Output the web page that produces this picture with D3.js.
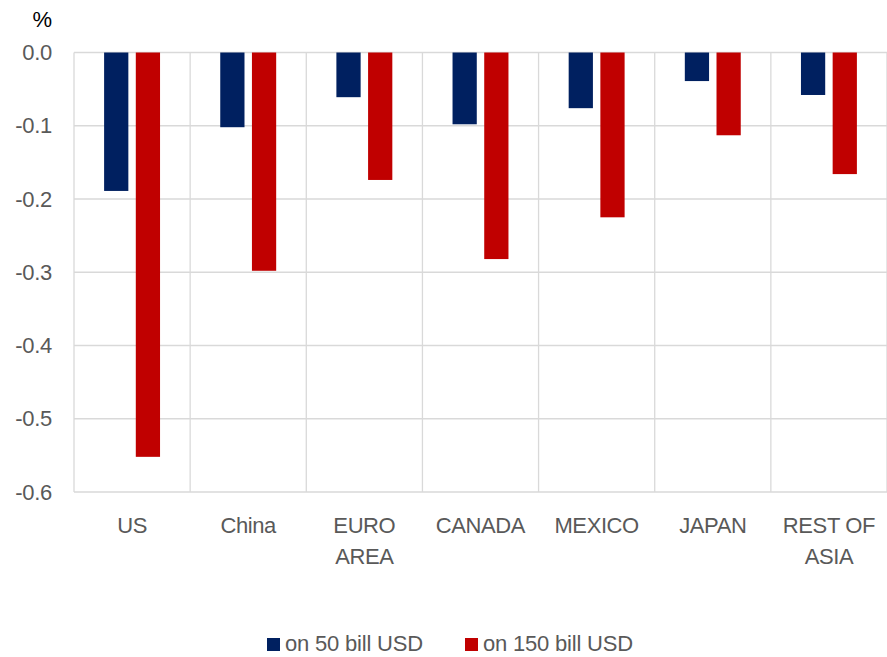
<!DOCTYPE html>
<html><head><meta charset="utf-8">
<script src="https://cdn.jsdelivr.net/npm/d3@7"></script>
<style>body{margin:0;background:#fff}svg{display:block}text{font-family:"Liberation Sans",Arial,sans-serif;fill:#595959}</style>
</head><body><svg id="c" width="887" height="657"></svg>
<script>
const categories = [["US"],["China"],["EURO","AREA"],["CANADA"],["MEXICO"],["JAPAN"],["REST OF","ASIA"]];
const seriesNames = ["on 50 bill USD","on 150 bill USD"];
const on50 = [-0.189,-0.102,-0.061,-0.098,-0.076,-0.039,-0.058];
const on150 = [-0.552,-0.298,-0.174,-0.282,-0.225,-0.113,-0.166];
const yTicks = [0,-0.1,-0.2,-0.3,-0.4,-0.5,-0.6];
const colors = ["#002060","#C00000"];

const svg = d3.select("#c");
const L=74, R=887, T=52.5, B=492;
const x = d3.scaleBand().domain(d3.range(categories.length)).range([L,R]).paddingInner(0).paddingOuter(0);
const y = d3.scaleLinear().domain([0,-0.6]).range([T,B]);
const x1 = d3.scaleBand().domain([0,1]).range([0,x.bandwidth()]).paddingInner(0.235).paddingOuter(0.95);

// gridlines
const g = svg.append("g");
g.selectAll("line.h").data(yTicks).join("line")
  .attr("x1",L).attr("x2",R).attr("y1",d=>y(d)).attr("y2",d=>y(d))
  .attr("stroke","#d9d9d9").attr("stroke-width",1.3);
g.selectAll("line.v").data(d3.range(categories.length+1)).join("line")
  .attr("x1",i=>i<categories.length?x(i):R).attr("x2",i=>i<categories.length?x(i):R)
  .attr("y1",T).attr("y2",B).attr("stroke","#d9d9d9").attr("stroke-width",1.3);

// y axis labels
const fmt = d=>d3.format(".1f")(d).replace("\u2212","-");
const yAxis = d3.axisLeft(y).tickValues(yTicks).tickFormat(fmt).tickSize(0).tickPadding(22);
const ya = svg.append("g").attr("transform",`translate(${L},0)`).call(yAxis);
ya.select(".domain").remove();
ya.selectAll("text").attr("font-size",22).attr("fill","#595959").attr("font-family","Liberation Sans, Arial, sans-serif").attr("letter-spacing","-0.3");
svg.append("text").attr("x",52).attr("y",27).attr("text-anchor","end").attr("font-size",22).style("fill","#000").text("%");

// bars
const series=[on50,on150];
series.forEach((s,si)=>{
  svg.append("g").selectAll("rect").data(s).join("rect")
    .attr("x",(d,i)=>x(i)+x1(si)).attr("width",x1.bandwidth())
    .attr("y",y(0)).attr("height",d=>y(d)-y(0)).attr("fill",colors[si]);
});

// category labels
const cl = svg.append("g");
categories.forEach((c,i)=>{
  const t = cl.append("text").attr("text-anchor","middle").attr("font-size",22).attr("letter-spacing","-0.4")
    .attr("x",x(i)+x.bandwidth()/2).attr("y",533);
  c.forEach((line,li)=>t.append("tspan").attr("x",x(i)+x.bandwidth()/2).attr("dy",li?31:0).text(line));
});

// legend
const lg = svg.append("g");
const lx=[267,465];
seriesNames.forEach((n,i)=>{
  lg.append("rect").attr("x",lx[i]).attr("y",638).attr("width",13).attr("height",13).attr("fill",colors[i]);
  lg.append("text").attr("x",lx[i]+18).attr("y",651).attr("font-size",22).attr("letter-spacing","-0.2").text(n);
});
</script></body></html>
